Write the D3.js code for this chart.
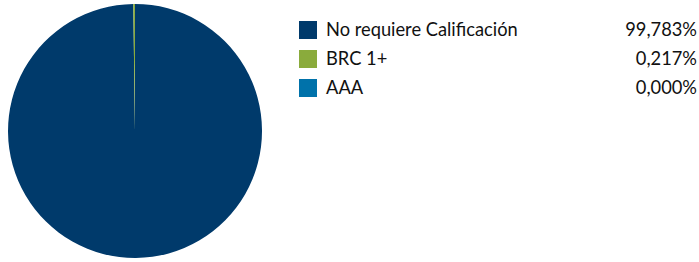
<!DOCTYPE html>
<html>
<head>
<meta charset="utf-8">
<script src="https://cdn.jsdelivr.net/npm/d3@7"></script>
<style>
  body { margin: 0; background: #fff; }
  text { font-family: Lato, "Open Sans", sans-serif; }
</style>
</head>
<body>
<div id="chart"></div>
<script>
const categories = ["No requiere Calificación", "BRC 1+", "AAA"];
const values = [99.783, 0.217, 0.000];
const colors = ["#003a6b", "#8aab3c", "#0072aa"];

const width = 699, height = 262;
const radius = 127;
const cx = 135, cy = 131;

const svg = d3.select("#chart")
    .append("svg")
    .attr("width", width)
    .attr("height", height);

const data = categories.map((c, i) => ({ name: c, value: values[i], color: colors[i] }));

const pie = d3.pie()
    .sort(null)
    .value(d => d.value);

const arc = d3.arc()
    .innerRadius(0)
    .outerRadius(radius);

svg.append("g")
    .attr("transform", `translate(${cx},${cy})`)
    .selectAll("path")
    .data(pie(data))
    .enter().append("path")
    .attr("d", arc)
    .attr("fill", d => d.data.color);

// Legend
const legend = svg.append("g")
    .attr("transform", "translate(299,21)");

const rows = legend.selectAll("g")
    .data(data)
    .enter().append("g")
    .attr("transform", (d, i) => `translate(0,${i * 29})`);

rows.append("rect")
    .attr("width", 18)
    .attr("height", 18)
    .attr("fill", d => d.color);

rows.append("text")
    .attr("x", 27)
    .attr("y", 9)
    .attr("dy", "0.35em")
    .style("font-size", "18.3px")
    .attr("fill", "#111")
    .text(d => d.name);

rows.append("text")
    .attr("x", 398)
    .attr("y", 9)
    .attr("dy", "0.35em")
    .attr("text-anchor", "end")
    .style("font-size", "18.3px")
    .attr("fill", "#111")
    .text(d => d.value.toFixed(3).replace(".", ",") + "%");
</script>
</body>
</html>
